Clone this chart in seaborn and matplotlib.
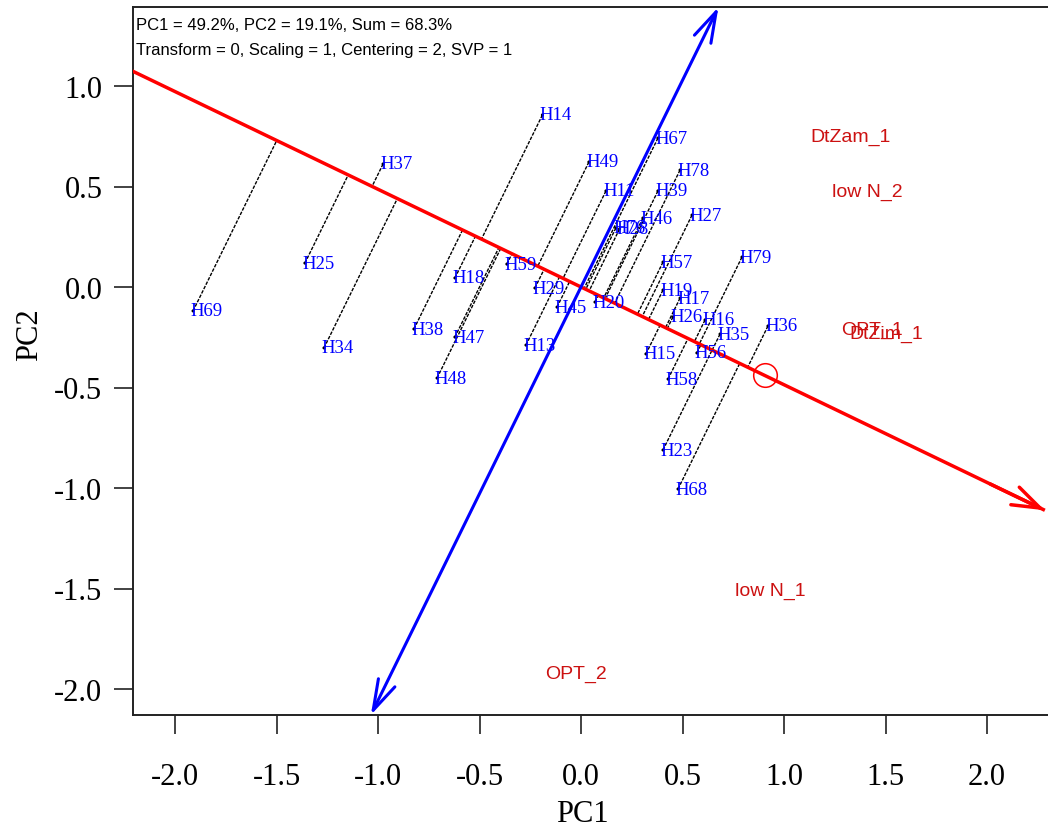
import numpy as np
import pandas as pd
import matplotlib
matplotlib.use("Agg")
import matplotlib.pyplot as plt
import seaborn as sns
from matplotlib.ticker import FormatStrFormatter

# ---------------- data ----------------
genotypes = ["H14", "H37", "H49", "H11", "H67", "H78", "H39", "H46", "H27",
             "H76", "H28", "H59", "H18", "H25", "H69", "H34", "H38", "H47",
             "H48", "H29", "H45", "H13", "H20", "H57", "H19", "H17", "H26",
             "H16", "H35", "H15", "H56", "H58", "H79", "H36", "H23", "H68"]
gen_pc1 = [-0.190, -0.975, 0.039, 0.123, 0.379, 0.488, 0.379, 0.305, 0.547,
           0.172, 0.190, -0.365, -0.621, -1.360, -1.911, -1.266, -0.823, -0.621,
           -0.709, -0.227, -0.118, -0.271, 0.069, 0.404, 0.404, 0.488, 0.453,
           0.611, 0.685, 0.320, 0.571, 0.429, 0.793, 0.921, 0.404, 0.478]
gen_pc2 = [0.856, 0.612, 0.622, 0.478, 0.741, 0.582, 0.478, 0.343, 0.358,
           0.294, 0.289, 0.114, 0.045, 0.119, -0.119, -0.303, -0.209, -0.249,
           -0.453, -0.005, -0.100, -0.289, -0.075, 0.124, -0.015, -0.055, -0.149,
           -0.164, -0.234, -0.333, -0.328, -0.458, 0.149, -0.194, -0.811, -1.005]

environments = ["DtZam_1", "low N_2", "OPT_1", "DtZim_1", "low N_1", "OPT_2"]
env_pc1 = [1.330, 1.409, 1.433, 1.502, 0.931, -0.025]
env_pc2 = [0.751, 0.478, -0.209, -0.229, -1.507, -1.920]

avg_env = [0.905, -0.440]        # average environment (small circle)
aea_tip_pc1 = 2.285              # end of the AEA arrow

header_lines = ["PC1 = 49.2%, PC2 = 19.1%, Sum = 68.3%",
                "Transform = 0, Scaling = 1, Centering = 2, SVP = 1"]
xticks = [-2.0, -1.5, -1.0, -0.5, 0.0, 0.5, 1.0, 1.5, 2.0]
yticks = [-2.0, -1.5, -1.0, -0.5, 0.0, 0.5, 1.0]

# ---------------- style ----------------
sns.set_style("ticks")
plt.rcParams["font.family"] = ["Liberation Serif", "DejaVu Serif"]
plt.rcParams["axes.unicode_minus"] = False

W, H = 1048, 829
fig = plt.figure(figsize=(W / 100, H / 100), dpi=100)
ax_left, ax_right, ax_top, ax_bot = 133, 1052, 8, 716
ax = fig.add_axes([ax_left / W, 1 - ax_bot / H,
                   (ax_right - ax_left) / W, (ax_bot - ax_top) / H])

x0, y0, sx, sy = 581, 288, 203, 201
xlim = ((ax_left - x0) / sx, (ax_right - x0) / sx)
ylim = ((y0 - ax_bot) / sy, (y0 - ax_top) / sy)
ax.set_xlim(*xlim)
ax.set_ylim(*ylim)

gdf = pd.DataFrame({"PC1": gen_pc1, "PC2": gen_pc2, "label": genotypes})
edf = pd.DataFrame({"PC1": env_pc1, "PC2": env_pc2, "label": environments})

# AEA direction
u = np.array(avg_env) / np.linalg.norm(avg_env)
v = np.array([-u[1], u[0]])  # perpendicular (points up-right)

# projection lines of genotypes onto AEA
G = gdf[["PC1", "PC2"]].to_numpy()
proj = (G @ u)[:, None] * u[None, :]
for g, p in zip(G, proj):
    ax.plot([g[0], p[0]], [g[1], p[1]], color="black", lw=1.0,
            ls=(0, (2.5, 1.0)), zorder=2)

# AEA red line (clipped at left), arrow at the tip
t_tip = aea_tip_pc1 / u[0]
t_left = (xlim[0] - 0.5) / u[0]
ax.plot([t_left * u[0], t_tip * u[0]], [t_left * u[1], t_tip * u[1]],
        color="red", lw=2.5, zorder=3, solid_capstyle="butt")
ax.annotate("", xy=(t_tip * u[0], t_tip * u[1]),
            xytext=((t_tip - 0.3) * u[0], (t_tip - 0.3) * u[1]),
            arrowprops=dict(arrowstyle="->,head_length=1.0,head_width=0.35",
                            color="red", lw=2.5, mutation_scale=20,
                            shrinkA=0, shrinkB=0), zorder=3)

# ATC ordinate (blue) with arrows at both ends
t_top = ylim[1] / v[1]
t_bot = ylim[0] / v[1]
ax.annotate("", xy=(t_top * v[0], t_top * v[1]),
            xytext=(t_bot * v[0], t_bot * v[1]),
            arrowprops=dict(arrowstyle="<->,head_length=1.1,head_width=0.33",
                            color="blue", lw=2.2, mutation_scale=20,
                            shrinkA=0, shrinkB=0), zorder=3)

# average environment circle
ax.plot([avg_env[0]], [avg_env[1]], marker="o", ms=17, mfc="none",
        mec="red", mew=1.1, ls="none", zorder=4)

# genotype points and labels
sns.scatterplot(data=gdf, x="PC1", y="PC2", color="black", s=5,
                edgecolor="none", ax=ax, zorder=5, legend=False)
for _, r in gdf.iterrows():
    ax.annotate(r.label, (r.PC1, r.PC2), xytext=(-2, 0),
                textcoords="offset points", color="blue", fontsize=13.5,
                family="Liberation Serif", ha="left", va="center", zorder=6)

# environment labels
for _, r in edf.iterrows():
    ax.text(r.PC1, r.PC2, r.label, color="#CC1111", fontsize=14,
            family="Liberation Sans", ha="center", va="center", zorder=6)

# header text
for i, line in enumerate(header_lines):
    fig.text(136 / W, 1 - (25 + 25 * i) / H, line, fontsize=12,
             family="Liberation Sans", ha="left", va="center", color="black")

# axes styling
ax.set_xticks(xticks)
ax.set_yticks(yticks)
ax.xaxis.set_major_formatter(FormatStrFormatter("%.1f"))
ax.yaxis.set_major_formatter(FormatStrFormatter("%.1f"))
ax.tick_params(axis="both", direction="out", length=14, width=1.2,
               color="#222222", labelsize=22, labelcolor="black")
ax.tick_params(axis="x", pad=20)
ax.tick_params(axis="y", pad=8)
for s in ax.spines.values():
    s.set_color("#222222")
    s.set_linewidth(1.4)
ax.set_xlabel("PC1", fontsize=22, color="black")
ax.set_ylabel("PC2", fontsize=22, color="black")
ax.xaxis.set_label_coords((582 - ax_left) / (ax_right - ax_left),
                          -(815 - ax_bot) / (ax_bot - ax_top))
ax.yaxis.set_label_coords(-(133 - 30) / (ax_right - ax_left),
                          (ax_bot - 335) / (ax_bot - ax_top))
ax.xaxis.label.set_va("center")
ax.yaxis.label.set_va("center")
ax.grid(False)

fig.savefig("out.png", dpi=100)
